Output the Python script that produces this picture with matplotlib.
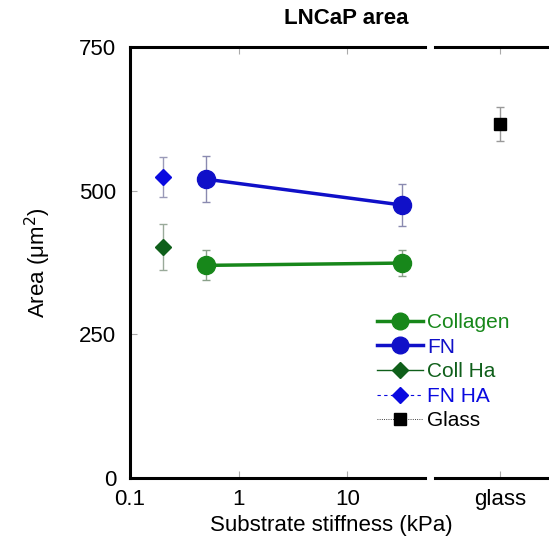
import matplotlib
matplotlib.use("Agg")
import matplotlib.pyplot as plt
from matplotlib.lines import Line2D

plt.rcParams['font.family'] = ['Liberation Sans', 'DejaVu Sans']

# 数据
stiff = [0.5, 32]
collagen = [370, 374]
collagen_err = [26, 22]
fn = [520, 475]
fn_err = [40, 36]

ha_x = [0.2]
coll_ha = [402]
coll_ha_err = [40]
fn_ha = [524]
fn_ha_err = [35]

glass = [616]
glass_err = [30]

c_green = '#17871a'
c_dkgreen = '#0f5f1a'
c_blue = '#1010c8'
c_blue2 = '#0a0ae0'

fig = plt.figure(figsize=(5.49, 5.46), dpi=100)
W, H = 549, 546
ax = fig.add_axes([130 / W, 1 - 478 / H, (425 - 130) / W, (478 - 47) / H])
ax2 = fig.add_axes([435 / W, 1 - 478 / H, (565 - 435) / W, (478 - 47) / H])

ek = dict(elinewidth=1.0, capsize=3, capthick=1.0)
ax.errorbar(stiff, collagen, yerr=collagen_err, color=c_green, marker='o', ms=13, lw=2.5,
            ecolor='#8aa08a', **ek)
ax.errorbar(stiff, fn, yerr=fn_err, color=c_blue, marker='o', ms=13, lw=2.5,
            ecolor='#8a8ab0', **ek)
ax.errorbar(ha_x, coll_ha, yerr=coll_ha_err, color=c_dkgreen, marker='D', ms=8, lw=0,
            ecolor='#9aaa9a', **ek)
ax.errorbar(ha_x, fn_ha, yerr=fn_ha_err, color=c_blue2, marker='D', ms=8, lw=0,
            ecolor='#9a9ab8', **ek)
ax2.errorbar([1], glass, yerr=glass_err, color='black', marker='s', ms=9, lw=0,
             ecolor='#999999', **ek)

ax.set_xscale('log')
ax.set_xlim(0.1, 52)
ax.set_ylim(0, 750)
ax.set_xticks([0.1, 1, 10])
ax.set_xticklabels(['0.1', '1', '10'])
ax.minorticks_off()
ax.set_yticks([0, 250, 500, 750])
ax.tick_params(direction='in', length=5, width=0.8, color='#aaaaaa', labelsize=16,
               top=True, pad=10)
ax.tick_params(axis='x', pad=8)

ax2.set_xlim(0, 2)
ax2.set_ylim(0, 750)
ax2.set_xticks([1])
ax2.set_xticklabels(['glass'])
ax2.set_yticks([])
ax2.tick_params(direction='in', length=5, width=0.8, color='#aaaaaa', labelsize=16,
                top=True, pad=8)

for a in (ax, ax2):
    for s in a.spines.values():
        s.set_linewidth(2.2)
ax.spines['right'].set_visible(False)
ax2.spines['left'].set_visible(False)
ax2.spines['right'].set_visible(False)

ax.set_ylabel('Area (μm$^2$)', fontsize=16, labelpad=19)
fig.text(331 / W, 1 - 526 / H, 'Substrate stiffness (kPa)', fontsize=16,
         ha='center', va='center')
fig.text(346 / W, 1 - 19 / H, 'LNCaP area', fontsize=16, fontweight='bold',
         ha='center', va='center')

handles = [
    Line2D([], [], color=c_green, marker='o', ms=12, lw=2.5),
    Line2D([], [], color=c_blue, marker='o', ms=12, lw=2.5),
    Line2D([], [], color=c_dkgreen, marker='D', ms=8, lw=1.0),
    Line2D([], [], color=c_blue2, marker='D', ms=8, lw=0.8, ls=(0, (3, 3))),
    Line2D([], [], color='black', marker='s', ms=8, lw=0.6, ls=':', markeredgecolor='black'),
]
labels = ['Collagen', 'FN', 'Coll Ha', 'FN HA', 'Glass']
leg = fig.legend(handles, labels, loc='upper left', bbox_to_anchor=(377 / W, 1 - 313 / H),
                 frameon=False, fontsize=15, handlelength=2.2, handletextpad=0.2,
                 labelspacing=0.27, borderaxespad=0, borderpad=0)
for t, c in zip(leg.get_texts(), [c_green, c_blue, c_dkgreen, c_blue2, 'black']):
    t.set_color(c)

fig.savefig('out.png', dpi=100)
